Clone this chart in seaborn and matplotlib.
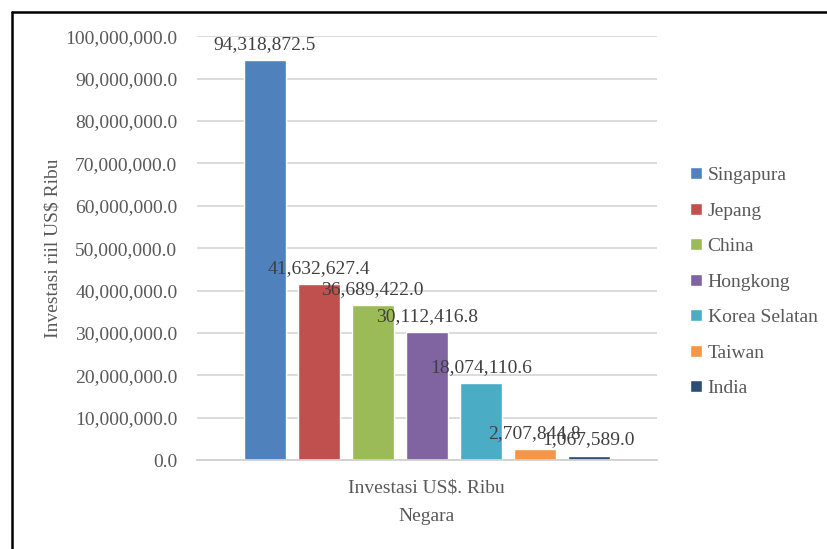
import pandas as pd
import matplotlib
matplotlib.use('Agg')
import matplotlib.pyplot as plt
from matplotlib.lines import Line2D
import seaborn as sns

# data
negara = ['Singapura', 'Jepang', 'China', 'Hongkong', 'Korea Selatan', 'Taiwan', 'India']
investasi = [94318872.5, 41632627.4, 36689422.0, 30112416.8, 18074110.6, 2707844.8, 1067589.0]
kategori = ['Investasi US$. Ribu'] * len(negara)
warna = ['#4F81BD', '#C0504D', '#9BBB59', '#8064A2', '#4BACC6', '#F79646', '#2C4D75']
y_ticks = [0, 10e6, 20e6, 30e6, 40e6, 50e6, 60e6, 70e6, 80e6, 90e6, 100e6]

sns.set_theme(style='white')
plt.rcParams['font.family'] = ['Liberation Serif', 'DejaVu Serif']
teks = '#595959'

df = pd.DataFrame({'Kategori': kategori, 'Negara': negara, 'Investasi': investasi})

fig = plt.figure(figsize=(8.27, 5.49), dpi=100)
ax = fig.add_axes([0.238, 0.162, 0.556, 0.772])

sns.barplot(data=df, x='Kategori', y='Investasi', hue='Negara', hue_order=negara,
            palette=warna, gap=0.22, width=0.822, saturation=1, ax=ax)

for c in ax.containers:
    ax.bar_label(c, labels=[f'{v:,.1f}' for v in c.datavalues], padding=5,
                 fontsize=14, color='#404040')

ax.set_ylim(0, 100e6)
ax.set_yticks(y_ticks)
ax.set_yticklabels([f'{v:,.1f}' for v in y_ticks])
ax.yaxis.grid(True, color='#d9d9d9', linewidth=1.3)
ax.set_axisbelow(True)
for s in ['top', 'right', 'left']:
    ax.spines[s].set_visible(False)
ax.spines['bottom'].set_color('#d0d0d0')
ax.spines['bottom'].set_linewidth(1.3)
ax.tick_params(axis='y', length=0, pad=14, labelsize=14, labelcolor=teks)
ax.tick_params(axis='x', length=0, pad=14, labelsize=14, labelcolor=teks)
ax.set_ylabel('Investasi riil US$ Ribu', fontsize=14, color=teks, labelpad=3)
ax.set_xlabel('Negara', fontsize=14, color=teks, labelpad=8)

handles, labels = ax.get_legend_handles_labels()
ax.legend(handles, labels, loc='center left', bbox_to_anchor=(1.035, 0.42),
          frameon=False, fontsize=14, labelcolor=teks, handlelength=0.6,
          handleheight=0.6, handletextpad=0.3, labelspacing=0.95)

# garis tepi gambar
fig.add_artist(Line2D([0.0145, 0.0145], [0, 0.979], color='black', linewidth=1.8))
fig.add_artist(Line2D([0.0145, 1], [0.979, 0.979], color='black', linewidth=1.8))

fig.savefig('out.png', dpi=100)
plt.close(fig)
